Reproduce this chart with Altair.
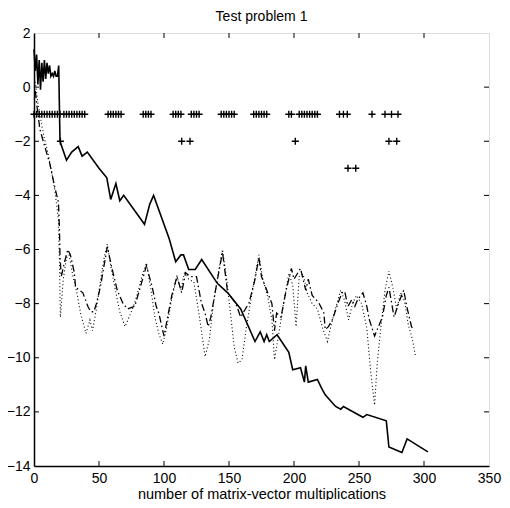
import altair as alt
import pandas as pd

# ---- data ----
solid_x = [0, 1, 2, 3, 4, 5, 6, 7, 8, 9, 10, 11, 12, 13, 14, 15, 16, 17, 18, 19, 20,
           25, 29, 34, 37, 41, 50, 56, 59, 63, 66, 69, 85, 89, 92, 104, 109, 113, 115,
           119, 124, 129, 141, 149, 154, 159, 170, 174, 177, 179, 181, 187, 196, 199,
           205, 208, 209, 211, 218, 221, 224, 232, 236, 238, 253, 256, 271, 273, 278,
           283, 287, 303]
solid_y = [1.4, 0.6, 1.2, 0.1, 1.0, -0.1, 0.9, 0.2, 1.0, 0.3, 0.9, 0.5, 0.8, 0.4, 0.5,
           0.4, 0.6, 0.4, 0.4, 0.8, -2.0,
           -2.7, -2.4, -2.2, -2.55, -2.4, -3.0, -3.35, -4.15, -3.56, -4.2, -4.0, -5.07,
           -4.33, -4.0, -5.6, -6.45, -6.2, -6.2, -6.74, -6.74, -6.37, -7.25, -7.6, -7.9,
           -8.2, -9.4, -9.04, -9.4, -9.15, -9.4, -9.15, -9.8, -10.44, -10.37, -10.9,
           -10.3, -10.9, -10.8, -11.1, -11.37, -11.8, -11.9, -11.8, -12.2, -12.1, -12.33,
           -13.3, -13.4, -13.5, -13.0, -13.48]

dashdot_x = [1, 2.3, 4.5, 8.3, 12, 16, 18.8, 19.6, 20, 21, 23.3, 26, 28, 31, 32, 37.6,
             41.4, 43.6, 46, 48, 51, 56.4, 60, 64, 68.5, 72, 77.5, 83.5, 86.5, 91, 94,
             96, 100, 102, 106, 110, 113.6, 116.6, 120, 125, 128.7, 131.6, 134, 136,
             141.5, 145, 149, 155, 159, 165.5, 170, 173, 175, 179, 183, 185, 186.6, 190,
             194, 198, 200, 205, 209, 211, 214, 219, 223, 224, 226.5, 229.5, 234, 237,
             239, 241.5, 244.5, 246.8, 249, 253, 256, 258, 262, 264, 268, 271, 273, 277,
             280.6, 284.4, 286.7, 290.4, 292]
dashdot_y = [-0.15, -0.7, -1.55, -2.2, -2.8, -3.7, -4.26, -5.26, -6.26, -7.0, -6.5, -6.0,
             -6.2, -6.85, -7.4, -7.6, -8.1, -8.3, -8.3, -8.0, -7.4, -5.9, -6.7, -7.5,
             -8.0, -8.2, -8.1, -7.1, -6.6, -7.4, -8.1, -8.35, -9.2, -8.7, -7.7, -7.0,
             -7.6, -6.86, -7.0, -7.0, -7.96, -8.35, -8.85, -8.5, -7.0, -6.1, -7.6, -7.96,
             -8.5, -7.96, -7.1, -6.3, -7.0, -7.5, -8.0, -9.0, -8.35, -8.5, -7.5, -6.7,
             -7.1, -6.7, -7.5, -7.1, -7.7, -7.96, -8.35, -8.96, -8.85, -8.6, -7.96, -7.6,
             -7.55, -8.1, -7.85, -8.1, -7.85, -7.6, -8.1, -8.6, -9.2, -8.96, -8.5, -7.7,
             -7.4, -8.5, -7.96, -7.5, -8.1, -8.85, -8.96]

dotted_x = [1, 3, 6, 8, 11, 13.5, 16, 18.8, 19.6, 20.3, 22.5, 25, 27, 30, 33, 36, 40, 43,
            45, 48, 51, 54, 56.4, 59, 63, 66, 70, 74, 78, 83, 86.5, 90, 93, 96, 99, 102,
            106, 110, 113, 116, 119, 123, 127, 131.6, 135, 138, 142, 145, 148, 151, 154,
            157, 160, 163, 167, 170, 173, 176, 180, 183, 185, 188, 192, 196, 199, 201.6,
            204, 207, 210, 214, 218, 222, 225.7, 229, 233, 236, 239, 242, 245, 248, 252,
            256, 259, 262, 264, 267, 270, 273, 276, 279, 282, 285, 288, 291, 293.5]
dotted_y = [0.2, -0.6, -1.4, -1.9, -2.5, -3.1, -3.8, -4.9, -6.5, -8.5, -7.1, -6.3, -6.2,
            -7.0, -7.6, -8.4, -9.1, -8.6, -9.0, -8.2, -7.2, -6.3, -5.8, -6.6, -7.6, -8.3,
            -8.85, -8.4, -7.9, -7.0, -6.5, -7.5, -8.5, -9.1, -9.5, -8.9, -7.8, -7.0,
            -7.5, -6.8, -7.1, -7.2, -8.4, -9.96, -9.3, -8.0, -6.8, -6.0, -7.0, -8.3,
            -9.6, -10.2, -10.07, -9.0, -7.8, -7.0, -6.2, -7.1, -7.8, -8.6, -10.07, -9.2,
            -8.0, -6.9, -7.3, -8.85, -7.0, -6.9, -7.6, -8.0, -8.2, -8.9, -9.4, -8.7,
            -8.0, -7.5, -7.9, -8.6, -8.0, -7.7, -8.0, -8.9, -10.5, -11.75, -10.2, -8.8,
            -7.5, -6.8, -7.4, -8.2, -7.6, -7.9, -8.8, -9.3, -9.96]

plus_x = [0, 2, 4, 6, 8, 10, 12, 14, 16, 18, 20,
          23, 25, 27, 29, 31, 33, 35, 37, 39,
          57, 59, 61, 63, 65, 67,
          84, 86, 88, 90,
          107, 109, 111, 113,
          121, 123, 125, 127,
          144, 146, 148, 150, 152, 154,
          169, 171, 173, 175, 177, 179,
          196, 198,
          204, 206, 208, 210, 212, 214, 216, 218,
          235, 238, 241, 260, 270, 275, 280,
          20.3, 113.6, 120, 201, 273, 279,
          241.5, 247.5]
plus_y = [-1] * 67 + [-2, -2, -2, -2, -2, -2, -3, -3]

x_ticks = [0, 50, 100, 150, 200, 250, 300, 350]
y_ticks = [2, 0, -2, -4, -6, -8, -10, -12, -14]

W, H = 455, 433
FONT = "Liberation Sans"

xs = alt.Scale(domain=[0, 350], nice=False, zero=False)
ys = alt.Scale(domain=[-14, 2], nice=False, zero=False)

x_axis = alt.Axis(values=x_ticks, title="number of matrix-vector multiplications",
                  grid=False, ticks=False, labelPadding=5, titlePadding=2,
                  labelFontSize=14, titleFontSize=14.5, titleFontWeight="normal",
                  labelFont=FONT, titleFont=FONT, labelColor="black", titleColor="black",
                  domainColor="black", domainWidth=1.5, labelFlush=False)
y_axis = alt.Axis(values=y_ticks, title=None, grid=False, ticks=False, labelPadding=4,
                  labelFontSize=14, labelFont=FONT, labelColor="black",
                  domainColor="black", domainWidth=1.5, labelFlush=False)

df_solid = pd.DataFrame({"x": solid_x, "y": solid_y})
df_dd = pd.DataFrame({"x": dashdot_x, "y": dashdot_y})
df_dot = pd.DataFrame({"x": dotted_x, "y": dotted_y})
df_plus = pd.DataFrame({"x": plus_x, "y": plus_y})
df_xt = pd.DataFrame({"t": x_ticks[1:-1]})
df_yt = pd.DataFrame({"t": y_ticks[1:-1]})

solid = alt.Chart(df_solid).mark_line(color="black", strokeWidth=1.6).encode(
    x=alt.X("x:Q", scale=xs, axis=x_axis),
    y=alt.Y("y:Q", scale=ys, axis=y_axis),
)
dashdot = alt.Chart(df_dd).mark_line(color="black", strokeWidth=1.3,
                                     strokeDash=[7, 3, 1.5, 3]).encode(
    x=alt.X("x:Q", scale=xs), y=alt.Y("y:Q", scale=ys))
dotted = alt.Chart(df_dot).mark_line(color="black", strokeWidth=1.1,
                                     strokeDash=[1, 2.5]).encode(
    x=alt.X("x:Q", scale=xs), y=alt.Y("y:Q", scale=ys))
plus = alt.Chart(df_plus).mark_point(
    shape="M -1 0 L 1 0 M 0 -1 L 0 1", size=50, filled=False,
    color="black", strokeWidth=1.4, opacity=1).encode(
    x=alt.X("x:Q", scale=xs), y=alt.Y("y:Q", scale=ys))

tick_bottom = alt.Chart(df_xt).mark_rule(color="black", strokeWidth=1).encode(
    x=alt.X("t:Q", scale=xs), y=alt.value(H), y2=alt.value(H - 5))
tick_top = alt.Chart(df_xt).mark_rule(color="black", strokeWidth=1).encode(
    x=alt.X("t:Q", scale=xs), y=alt.value(0), y2=alt.value(5))
tick_left = alt.Chart(df_yt).mark_rule(color="black", strokeWidth=1).encode(
    y=alt.Y("t:Q", scale=ys), x=alt.value(0), x2=alt.value(5))
tick_right = alt.Chart(df_yt).mark_rule(color="black", strokeWidth=1).encode(
    y=alt.Y("t:Q", scale=ys), x=alt.value(W), x2=alt.value(W - 5))

chart = alt.layer(
    solid, dashdot, dotted, plus, tick_bottom, tick_top, tick_left, tick_right
).properties(
    width=W, height=H,
    title=alt.TitleParams("Test problem 1", font=FONT, fontSize=14,
                          fontWeight="normal", color="black", offset=2,
                          frame="group"),
    autosize=alt.AutoSizeParams(type="none"),
    padding={"left": 26, "top": 25, "right": 13, "bottom": 34},
).configure_view(stroke="black", strokeWidth=1.5).configure(background="white")

chart.save("out.html", embed_options={"renderer": "svg", "actions": False})
